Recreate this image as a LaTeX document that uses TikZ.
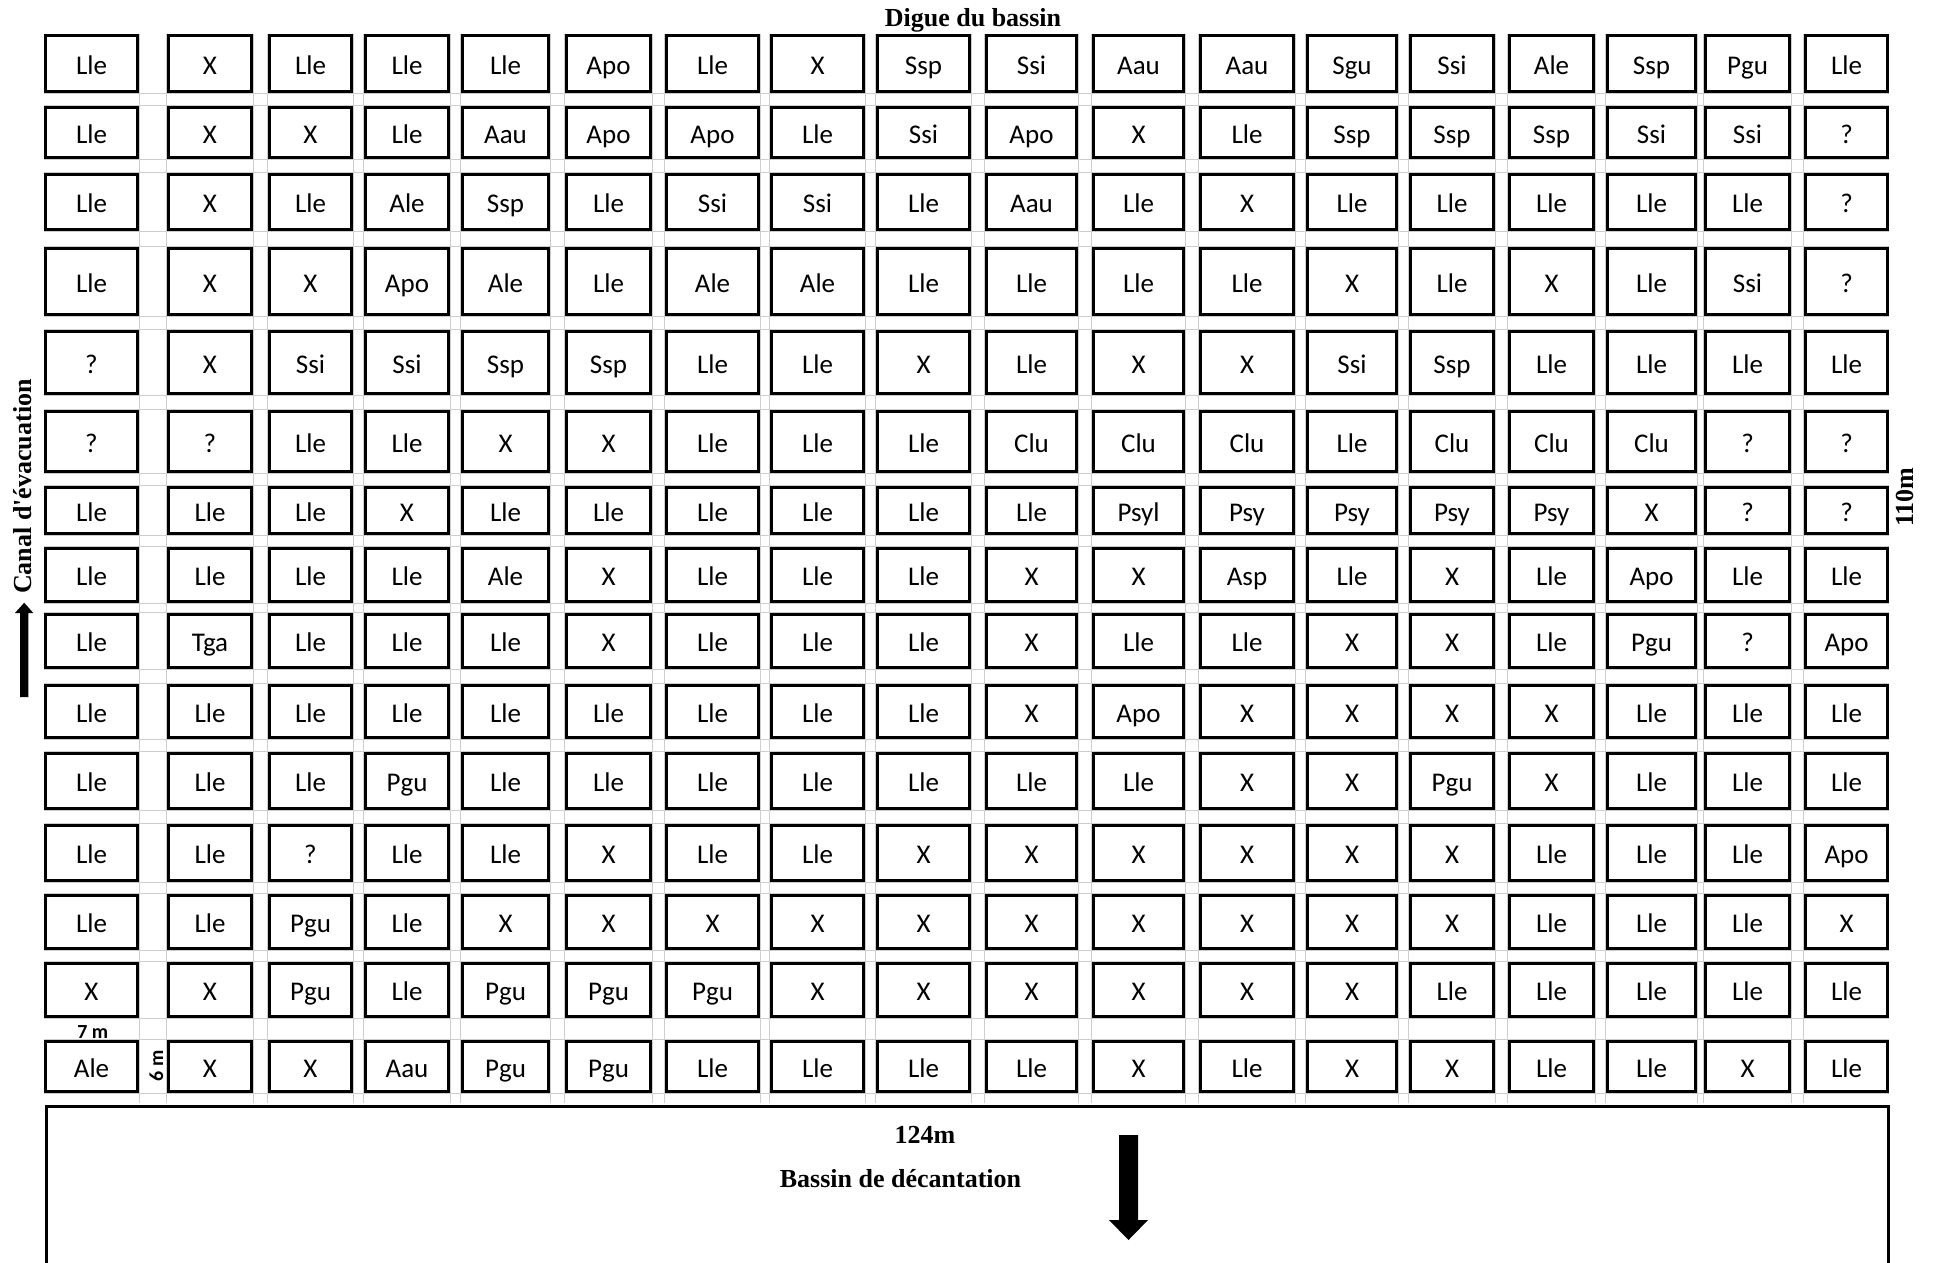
\documentclass[tikz,border=0pt]{standalone}
\usepackage{fontspec}
\setmainfont{Liberation Serif}[Ligatures=TeXOff]
\newfontfamily\cellfont{Carlito}
\definecolor{gridgray}{RGB}{205,205,205}
\def\colL{{44,167,268,364,461,565,665,770,876,985,1092,1199,1306,1409,1508,1606,1704,1804}}
\def\colR{{139,253,353,450,550,652,760,865,971,1078,1185,1295,1398,1495,1595,1697,1791,1889}}
\def\rowT{{33.5,106,173,247,330,410,486,547,613,684,752,824,894,962,1040}}
\def\rowB{{93,159,231,316,395,473,535,603,669,739,810,882,950,1018,1093}}
\tikzset{
  cellbox/.style={draw=black, fill=white, line width=3pt, inner sep=0pt,
    text height=21.5pt, text depth=0pt,
    font=\cellfont\fontsize{27}{30}\selectfont},
  boldlab/.style={inner sep=0pt, font=\bfseries\fontsize{26}{28}\selectfont},
  smalllab/.style={inner sep=0pt, font=\cellfont\bfseries\fontsize{20}{22}\selectfont},
  gridline/.style={draw=gridgray, line width=1.5pt}
}
\newcommand\placerow[2]{%
  \foreach \lab [count=\c] in {#2} {%
    \pgfmathsetmacro\xl{\colL[\c-1]}%
    \pgfmathsetmacro\xr{\colR[\c-1]}%
    \pgfmathsetmacro\yt{\rowT[#1-1]}%
    \pgfmathsetmacro\yb{\rowB[#1-1]}%
    \pgfmathsetmacro\w{\xr-\xl-3}%
    \pgfmathsetmacro\h{\yb-\yt-3}%
    \pgfmathsetmacro\xc{(\xl+\xr)/2}%
    \pgfmathsetmacro\yc{(\yt+\yb)/2}%
    \node[cellbox, minimum width=\w pt, minimum height=\h pt] (cell-#1-\c) at (\xc,\yc) {\lab};
  }%
}
\begin{document}
\begin{tikzpicture}[x=1pt,y=-1pt]
\useasboundingbox (0,0) rectangle (1934,1262);
\clip (0,0) rectangle (1934,1262);
% light table grid
\foreach \i in {0,...,16} {
  \pgfmathsetmacro\ga{\colR[\i]+0.5}
  \pgfmathsetmacro\gb{\colL[\i+1]-0.5}
  \draw[gridline] (\ga,33.5) -- (\ga,1103);
  \draw[gridline] (\gb,33.5) -- (\gb,1103);
}
\foreach \j in {0,...,14} {
  \pgfmathsetmacro\ha{\rowB[\j]+0.5}
  \draw[gridline] (44,\ha) -- (1889,\ha);
}
\foreach \j in {1,...,14} {
  \pgfmathsetmacro\hb{\rowT[\j]-0.5}
  \draw[gridline] (44,\hb) -- (1889,\hb);
}
% cells
\placerow{1}{Lle,X,Lle,Lle,Lle,Apo,Lle,X,Ssp,Ssi,Aau,Aau,Sgu,Ssi,Ale,Ssp,Pgu,Lle}
\placerow{2}{Lle,X,X,Lle,Aau,Apo,Apo,Lle,Ssi,Apo,X,Lle,Ssp,Ssp,Ssp,Ssi,Ssi,?}
\placerow{3}{Lle,X,Lle,Ale,Ssp,Lle,Ssi,Ssi,Lle,Aau,Lle,X,Lle,Lle,Lle,Lle,Lle,?}
\placerow{4}{Lle,X,X,Apo,Ale,Lle,Ale,Ale,Lle,Lle,Lle,Lle,X,Lle,X,Lle,Ssi,?}
\placerow{5}{?,X,Ssi,Ssi,Ssp,Ssp,Lle,Lle,X,Lle,X,X,Ssi,Ssp,Lle,Lle,Lle,Lle}
\placerow{6}{?,?,Lle,Lle,X,X,Lle,Lle,Lle,Clu,Clu,Clu,Lle,Clu,Clu,Clu,?,?}
\placerow{7}{Lle,Lle,Lle,X,Lle,Lle,Lle,Lle,Lle,Lle,Psyl,Psy,Psy,Psy,Psy,X,?,?}
\placerow{8}{Lle,Lle,Lle,Lle,Ale,X,Lle,Lle,Lle,X,X,Asp,Lle,X,Lle,Apo,Lle,Lle}
\placerow{9}{Lle,Tga,Lle,Lle,Lle,X,Lle,Lle,Lle,X,Lle,Lle,X,X,Lle,Pgu,?,Apo}
\placerow{10}{Lle,Lle,Lle,Lle,Lle,Lle,Lle,Lle,Lle,X,Apo,X,X,X,X,Lle,Lle,Lle}
\placerow{11}{Lle,Lle,Lle,Pgu,Lle,Lle,Lle,Lle,Lle,Lle,Lle,X,X,Pgu,X,Lle,Lle,Lle}
\placerow{12}{Lle,Lle,?,Lle,Lle,X,Lle,Lle,X,X,X,X,X,X,Lle,Lle,Lle,Apo}
\placerow{13}{Lle,Lle,Pgu,Lle,X,X,X,X,X,X,X,X,X,X,Lle,Lle,Lle,X}
\placerow{14}{X,X,Pgu,Lle,Pgu,Pgu,Pgu,X,X,X,X,X,X,Lle,Lle,Lle,Lle,Lle}
\placerow{15}{Ale,X,X,Aau,Pgu,Pgu,Lle,Lle,Lle,Lle,X,Lle,X,X,Lle,Lle,X,Lle}
% settling basin (open at the bottom of the page)
\node[draw=black, line width=3pt, minimum width=1842pt, minimum height=300pt,
      inner sep=0pt, anchor=north west] (bassin) at (44.8,1104.8) {};
% labels
\node[boldlab, anchor=base] (digue) at (973,26) {Digue du bassin};
\node[boldlab, anchor=base, rotate=90] (canal) at (31.5,486.5) {Canal d'évacuation};
\node[boldlab, anchor=base, rotate=90] (haut) at (1913,497) {110m};
\node[boldlab, anchor=base] (larg) at (925,1143) {124m};
\node[boldlab, anchor=base] (bassinlab) at (900.5,1187) {Bassin de décantation};
\node[smalllab, anchor=base] (sept) at (92.8,1038) {7 m};
\node[smalllab, anchor=base, rotate=90] (six) at (163,1066) {6 m};
% arrows
\fill[black] (20,697) -- (20,613) -- (15,613) -- (24.2,602.7) -- (33.3,613) -- (28.3,613) -- (28.3,697) -- cycle;
\fill[black] (1119,1135) -- (1138,1135) -- (1138,1220) -- (1148,1220) -- (1128.5,1240) -- (1109,1220) -- (1119,1220) -- cycle;
\end{tikzpicture}
\end{document}
